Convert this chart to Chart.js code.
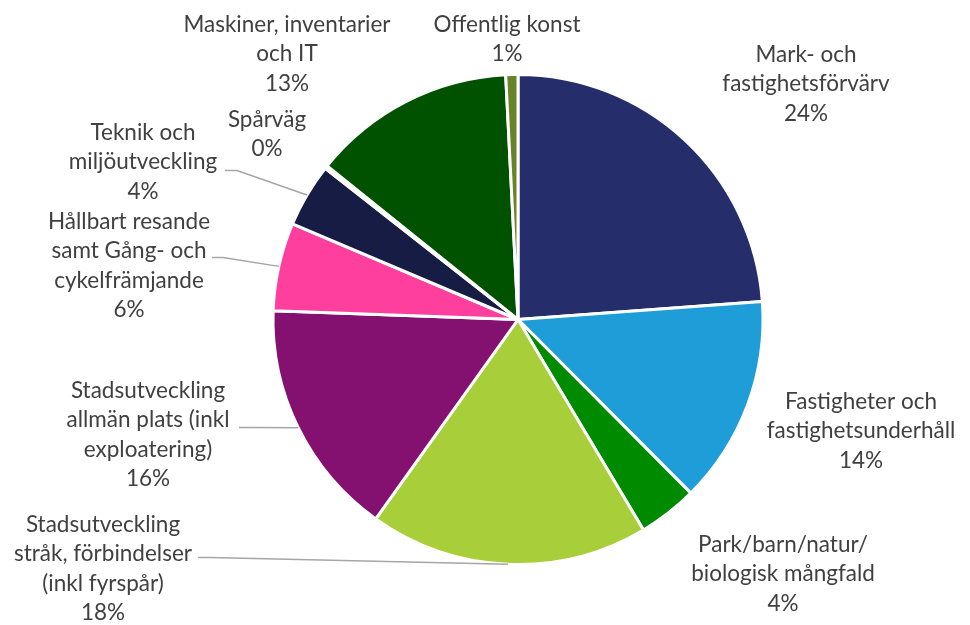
<!DOCTYPE html>
<html>
<head>
<meta charset="utf-8">
<script src="https://cdn.jsdelivr.net/npm/chart.js@4/dist/chart.umd.min.js"></script>
<style>
  html, body { margin: 0; padding: 0; background: #fff; }
  #wrap { width: 970px; height: 625px; position: relative; }
</style>
</head>
<body>
<div id="wrap"><canvas id="chart"></canvas></div>
<script>
// kategorier (radbrytningar som i originalet)
var categories = [
    ["Mark- och", "fastighetsförvärv"],
    ["Fastigheter och", "fastighetsunderhåll"],
    ["Park/barn/natur/", "biologisk mångfald"],
    ["Stadsutveckling", "stråk, förbindelser", "(inkl fyrspår)"],
    ["Stadsutveckling", "allmän plats (inkl", "exploatering)"],
    ["Hållbart resande", "samt Gång- och", "cykelfrämjande"],
    ["Teknik och", "miljöutveckling"],
    ["Spårväg"],
    ["Maskiner, inventarier", "och IT"],
    ["Offentlig konst"]
];
// andel i procent
var shares = [23.8, 13.7, 3.9, 18.4, 15.7, 5.8, 4.2, 0.2, 13.4, 0.8];
var colors = ["#252E6B", "#1E9DD9", "#008A00", "#A8CF3A", "#84106F",
              "#FF3F9E", "#171C44", "#D9D9D9", "#015200", "#6A8228"];

// etikettplacering relativt cirkelns mitt: [dx, dy för första raden]
var labelPos = [
    [288, -265], [343, 82], [265, 225], [-415, 205], [-370, 71],
    [-389, -98], [-375, -187], [-251, -200], [-231, -295], [-11, -295]
];
// hänvisningslinjer: [startX, startY, knäX] relativt mitten, null = ingen
var leaders = [null, null, null, [-320, 238, -308], [-279, 108, -267],
               [-306, -62, -295], [-293, -149, -281], null, null, null];

var lineH = 29.5;

var labelPlugin = {
    id: "pieLabels",
    afterDatasetsDraw: function (chart) {
        var ctx = chart.ctx;
        var meta = chart.getDatasetMeta(0);
        var total = shares.reduce(function (a, b) { return a + b; }, 0);
        var cx = meta.data[0].x, cy = meta.data[0].y;
        ctx.save();
        ctx.font = "22.5px Lato";
        ctx.fillStyle = "#404040";
        ctx.textAlign = "center";
        ctx.textBaseline = "middle";
        meta.data.forEach(function (arc, i) {
            var lines = categories[i].concat([Math.round(shares[i] / total * 100) + "%"]);
            var p = labelPos[i];
            lines.forEach(function (t, j) {
                ctx.fillText(t, cx + p[0], cy + p[1] + j * lineH);
            });
            var l = leaders[i];
            if (l) {
                var mid = (arc.startAngle + arc.endAngle) / 2;
                var ex = arc.x + Math.cos(mid) * arc.outerRadius;
                var ey = arc.y + Math.sin(mid) * arc.outerRadius;
                ctx.beginPath();
                ctx.strokeStyle = "#A6A6A6";
                ctx.lineWidth = 1.5;
                ctx.moveTo(cx + l[0], cy + l[1]);
                ctx.lineTo(cx + l[2], cy + l[1]);
                ctx.lineTo(ex, ey);
                ctx.stroke();
            }
        });
        ctx.restore();
    }
};

var chart = new Chart(document.getElementById("chart"), {
    type: "pie",
    data: {
        labels: categories,
        datasets: [{
            data: shares,
            backgroundColor: colors,
            borderColor: "#ffffff",
            borderWidth: 3
        }]
    },
    options: {
        responsive: true,
        maintainAspectRatio: false,
        animation: false,
        radius: 245,
        layout: { padding: { left: 200, right: 134, top: 64, bottom: 50 } },
        plugins: {
            legend: { display: false },
            tooltip: { enabled: false }
        }
    },
    plugins: [labelPlugin]
});
</script>
</body>
</html>
